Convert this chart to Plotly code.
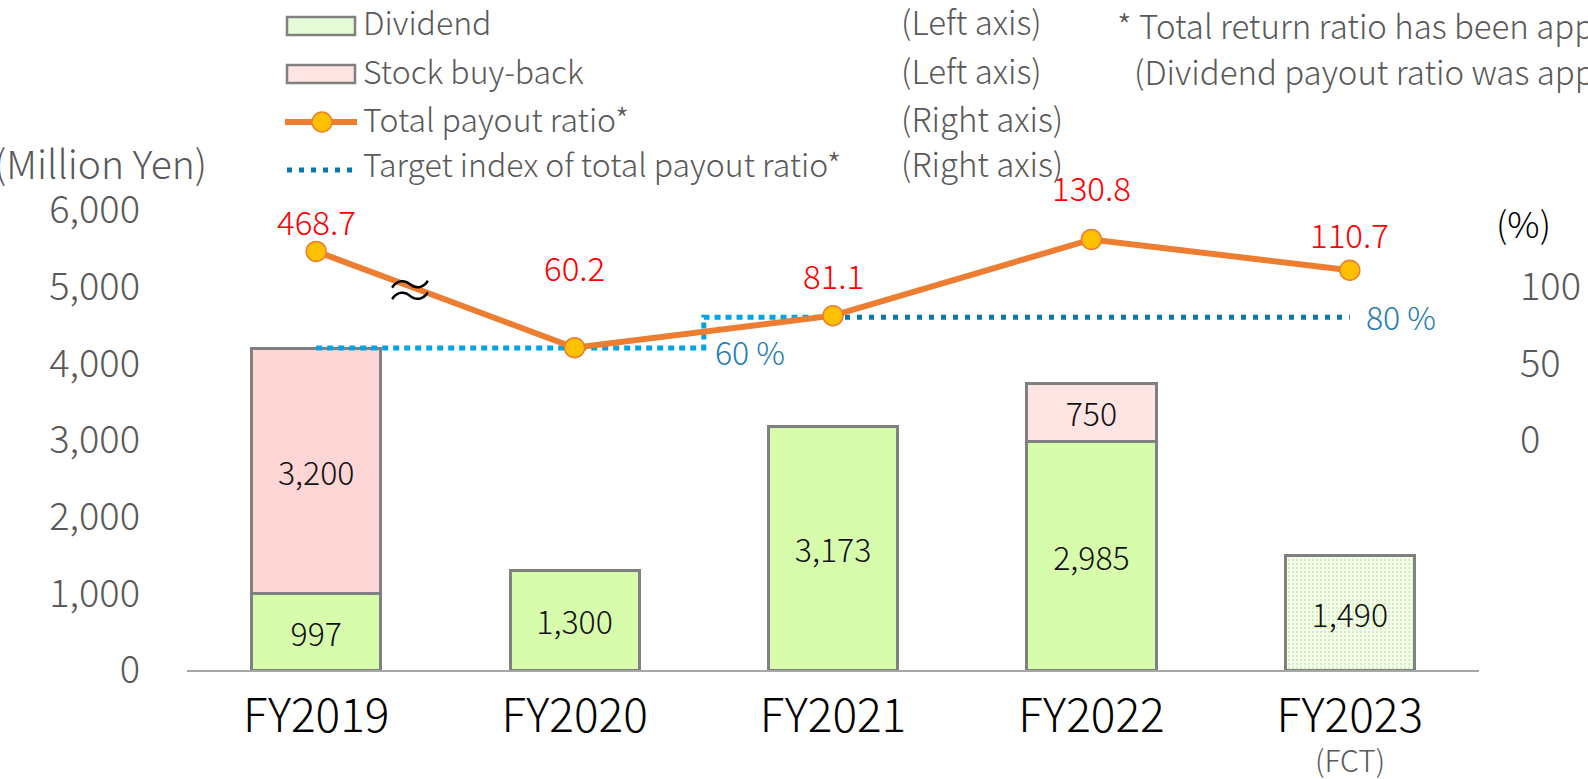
import plotly.graph_objects as go

# data
categories = ["FY2019", "FY2020", "FY2021", "FY2022", "FY2023"]
dividend = [997, 1300, 3173, 2985, 1490]
buyback = [3200, None, None, 750, None]
payout_ratio = [468.7, 60.2, 81.1, 130.8, 110.7]
target_ratio = [60, 60, 80, 80, 80]
left_ticks = [0, 1000, 2000, 3000, 4000, 5000, 6000]
right_ticks = [0, 50, 100]

# values beyond the axis break (the ≈ mark) are drawn at break_display
break_threshold = 200
break_display = 123
plotted_ratio = [break_display if v > break_threshold else v for v in payout_ratio]

FONT = "Noto Sans CJK JP"
GRAY = "#595959"
GREEN = "#d7fdac"
ORANGE = "#ed7d31"
LIGHT_BLUE = "#00a4e4"
DARK_BLUE = "#0b77b0"

# plot area in pixels
PL, PR, PT, PB = 187, 1479, 210, 670
W, H = 1588, 779


def px(x):
    return (x - PL) / (PR - PL)


def py(y):
    return (PB - y) / (PB - PT)


def font(size, color=GRAY):
    return dict(family=FONT, size=size, color=color, weight=300)


def note(x, y, text, size, color=GRAY, xanchor="left"):
    return dict(x=px(x), y=py(y), xref="paper", yref="paper", text=text,
                xanchor=xanchor, yanchor="middle", showarrow=False, font=font(size, color))


fig = go.Figure()

fig.add_trace(go.Bar(
    x=categories, y=dividend, width=0.5,
    marker=dict(color=GREEN, line=dict(color="#808080", width=3),
                pattern=dict(shape=["", "", "", "", "."], fillmode="replace",
                             bgcolor="#f7fdf0", fgcolor="#d2f2b4", size=4, solidity=0.3)),
    texttemplate="%{y:,}", textposition="inside", insidetextanchor="middle",
    textangle=0, textfont=font(32, "#111111"),
    showlegend=False,
))
fig.add_trace(go.Bar(
    x=categories, y=buyback, width=0.5,
    marker=dict(color=["#ffd6d6", "#ffd6d6", "#ffd6d6", "#ffe4e4", "#ffd6d6"],
                line=dict(color="#808080", width=3)),
    texttemplate="%{y:,}", textposition="inside", insidetextanchor="middle",
    textangle=0, textfont=font(32, "#111111"),
    showlegend=False,
))

# target index (stepped)
fig.add_trace(go.Scatter(
    x=categories[:3], y=target_ratio[:3], yaxis="y2", mode="lines",
    line=dict(color=LIGHT_BLUE, width=5, dash="6px,5px", shape="hvh"),
    showlegend=False, hoverinfo="skip",
))
fig.add_trace(go.Scatter(
    x=categories[2:], y=target_ratio[2:], yaxis="y2", mode="lines",
    line=dict(color=DARK_BLUE, width=5, dash="5px,7px"),
    showlegend=False, hoverinfo="skip",
))

# total payout ratio
fig.add_trace(go.Scatter(
    x=categories, y=plotted_ratio, yaxis="y2", mode="lines+markers",
    line=dict(color=ORANGE, width=6),
    marker=dict(size=20, color="#ffc000", line=dict(color=ORANGE, width=1.5)),
    showlegend=False,
))

annotations = []
label_lift = [30, 81, 41, 52, 36]
for c, v, p, lift in zip(categories, payout_ratio, plotted_ratio, label_lift):
    annotations.append(dict(x=c, y=p, xref="x", yref="y2", text=f"{v:.1f}",
                            xanchor="center", yanchor="middle",
                            showarrow=False, yshift=lift, font=font(33, "#ff0000")))

annotations += [
    dict(x=px(713), y=target_ratio[1], xref="paper", yref="y2", text="60 %",
         xanchor="left", yanchor="middle", showarrow=False, yshift=-3,
         font=font(32, "#1f7db3")),
    dict(x=categories[-1], y=target_ratio[-1], xref="x", yref="y2", text="80 %",
         xanchor="left", yanchor="middle", xshift=14, yshift=1, showarrow=False,
         font=font(32, "#1f7db3")),
    dict(x=categories[-1], y=py(759), xref="x", yref="paper", text="(FCT)",
         xanchor="center", yanchor="middle", showarrow=False, font=font(30)),
    note(410, 287, "≈", 50, "#000000", "center"),
    note(209, 162, "(Million Yen)", 39, xanchor="right"),
    note(1523, 222, "(%)", 36, "#000000", "center"),
    note(1115, 25, "* Total return ratio has been applied since FY2021.", 33),
    note(1132, 71, "(Dividend payout ratio was applied until FY2020.)", 33),
]

# legend (drawn by hand)
legend_rows = [
    ("Dividend", "(Left axis)", 21),
    ("Stock buy-back", "(Left axis)", 70),
    ("Total payout ratio*", "(Right axis)", 118),
    ("Target index of total payout ratio*", "(Right axis)", 163),
]
for name, side, yc in legend_rows:
    annotations.append(note(361, yc, name, 32))
    annotations.append(note(899, yc, side, 33))

shapes = [
    dict(type="rect", xref="paper", yref="paper", x0=px(287), x1=px(355), y0=py(35), y1=py(17),
         fillcolor="#e6fcd6", line=dict(color="#808080", width=2.5)),
    dict(type="rect", xref="paper", yref="paper", x0=px(287), x1=px(355), y0=py(83), y1=py(65),
         fillcolor="#ffe4e4", line=dict(color="#808080", width=2.5)),
    dict(type="line", xref="paper", yref="paper", x0=px(285), x1=px(357), y0=py(122), y1=py(122),
         line=dict(color=ORANGE, width=6)),
    dict(type="circle", xref="paper", yref="paper", x0=px(312), x1=px(332), y0=py(132), y1=py(112),
         fillcolor="#ffc000", line=dict(color=ORANGE, width=1.5)),
    dict(type="line", xref="paper", yref="paper", x0=px(287), x1=px(352), y0=py(170), y1=py(170),
         line=dict(color=DARK_BLUE, width=5, dash="5px,7px")),
]

fig.update_layout(
    width=W, height=H,
    barmode="stack",
    plot_bgcolor="white", paper_bgcolor="white",
    margin=dict(l=PL, r=W - PR, t=PT, b=H - PB, autoexpand=False),
    font=font(30),
    showlegend=False,
    xaxis=dict(range=[-0.5, 4.5], showline=True, linecolor="#a6a6a6", linewidth=2,
               showgrid=False, ticks="", ticklabelstandoff=5, automargin=False,
               tickfont=font(46, "#000000")),
    yaxis=dict(range=[0, 6000], tickvals=left_ticks, tickformat=",", showgrid=False,
               zeroline=False, showline=False, ticks="", ticklabelstandoff=46,
               automargin=False, tickfont=font(38)),
    yaxis2=dict(range=[-150, 150], overlaying="y", side="right", tickvals=right_ticks,
                showgrid=False, zeroline=False, showline=False, ticks="",
                ticklabelstandoff=40, automargin=False, tickfont=font(38)),
    annotations=annotations,
    shapes=shapes,
)

fig.write_html("out.html", config={"displayModeBar": False},
               post_script="document.body.style.margin='0';")
